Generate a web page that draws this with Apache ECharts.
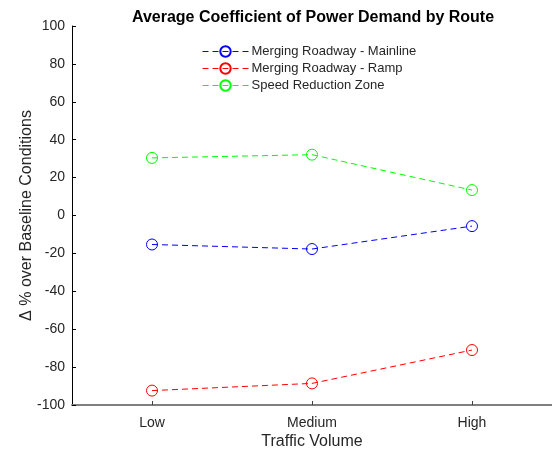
<!DOCTYPE html>
<html>
<head>
<meta charset="utf-8">
<script src="https://cdn.jsdelivr.net/npm/echarts@6/dist/echarts.min.js"></script>
<style>
  html, body { margin: 0; padding: 0; background: #fff; }
  #chart { width: 552px; height: 456px; }
</style>
</head>
<body>
<div id="chart"></div>
<script>
// Traffic volume levels on the x axis
const categories = ['Low', 'Medium', 'High'];

// Percent change in the average coefficient of power demand, per route
const mainline = [-15.3, -17.7, -5.6];
const ramp = [-92.4, -88.6, -71.0];
const speedZone = [30.4, 32.1, 13.4];

const seriesNames = [
  'Merging Roadway - Mainline',
  'Merging Roadway - Ramp',
  'Speed Reduction Zone'
];
const seriesColors = ['#0000ff', '#ff0000', '#00ff00'];
const seriesData = [mainline, ramp, speedZone];

const font = '"Liberation Sans", Arial, Helvetica, sans-serif';

const chart = echarts.init(document.getElementById('chart'), null, { renderer: 'canvas' });

chart.setOption({
  animation: false,
  backgroundColor: '#ffffff',
  title: {
    text: 'Average Coefficient of Power Demand by Route',
    left: 308,
    top: 5,
    textAlign: 'center',
    textStyle: { fontFamily: font, fontSize: 16, fontWeight: 'bold', color: '#000' }
  },
  legend: {
    orient: 'vertical',
    left: 202,
    top: 45,
    padding: 0,
    itemWidth: 46,
    itemHeight: 13,
    itemGap: 4,
    lineStyle: { width: 1 },
    textStyle: { fontFamily: font, fontSize: 13, color: '#262626', padding: [0, 0, 0, -2] },
    data: seriesNames
  },
  grid: { left: 72, right: 0, top: 26, bottom: 51, containLabel: false },
  xAxis: {
    type: 'category',
    data: categories,
    boundaryGap: true,
    name: 'Traffic Volume',
    nameLocation: 'middle',
    nameGap: 29,
    nameMoveOverlap: false,
    nameTextStyle: { fontFamily: font, fontSize: 16, color: '#262626' },
    axisLine: { show: true, onZero: false, lineStyle: { color: '#808080', width: 2 } },
    axisTick: { show: true, inside: true, length: 4, alignWithLabel: true, lineStyle: { color: '#404040' } },
    axisLabel: { fontFamily: font, fontSize: 14, color: '#262626', margin: 11 },
    splitLine: { show: false }
  },
  yAxis: {
    type: 'value',
    min: -100,
    max: 100,
    interval: 20,
    name: '\u0394 % over Baseline Conditions',
    nameLocation: 'middle',
    nameGap: 37,
    nameMoveOverlap: false,
    nameTextStyle: { fontFamily: font, fontSize: 16, color: '#262626' },
    axisLine: { show: true, lineStyle: { color: '#000', width: 1 } },
    axisTick: { show: true, inside: true, length: 4, lineStyle: { color: '#000' } },
    axisLabel: { fontFamily: font, fontSize: 14, color: '#262626', margin: 7 },
    splitLine: { show: false }
  },
  series: seriesData.map((values, i) => ({
    name: seriesNames[i],
    type: 'line',
    data: values,
    symbol: 'circle',
    symbolSize: 11,
    showAllSymbol: true,
    color: seriesColors[i],
    itemStyle: { color: 'transparent', borderColor: seriesColors[i], borderWidth: 1 },
    lineStyle: { color: seriesColors[i], width: 1, type: [6, 4] },
    emphasis: { disabled: true }
  }))
});
</script>
</body>
</html>
